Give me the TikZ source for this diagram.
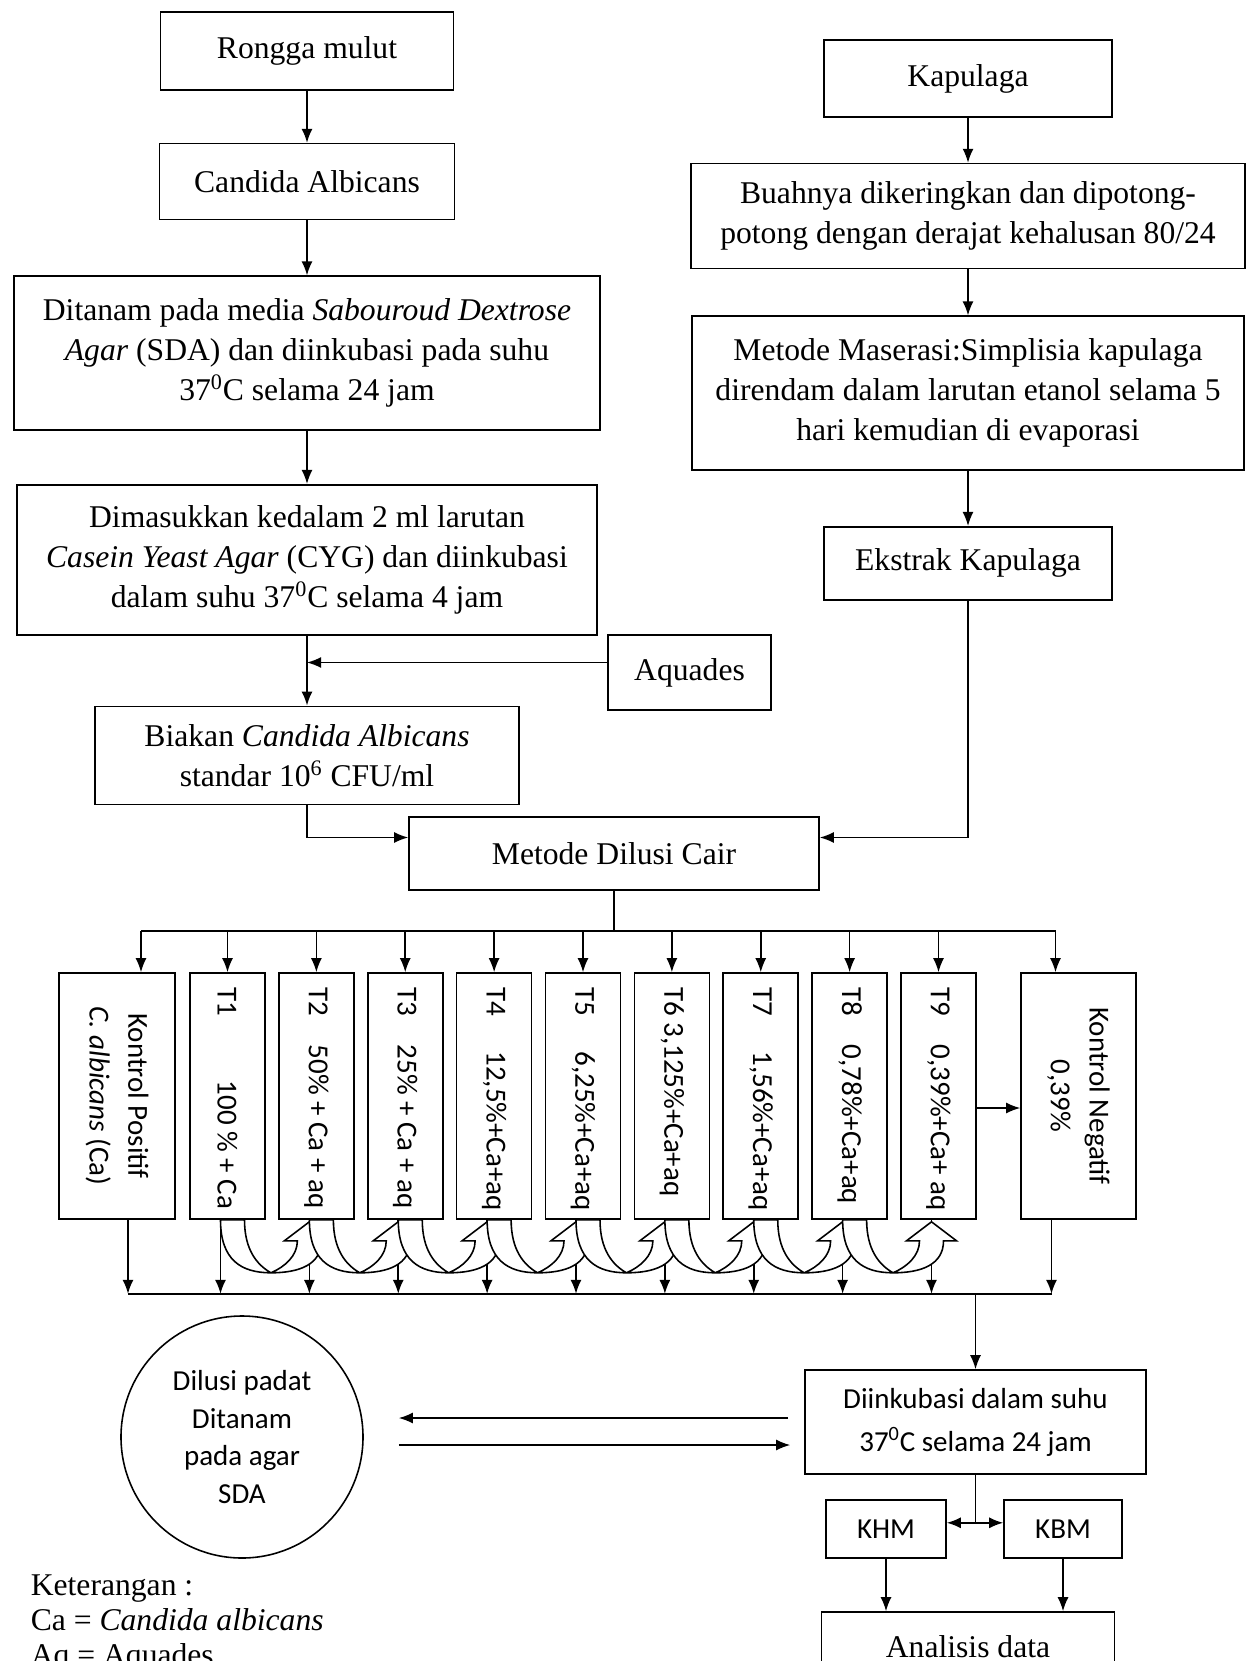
\documentclass[tikz,border=0pt]{standalone}
\usepackage{fontspec}
\setmainfont{Liberation Serif}
\newfontfamily\calfont{Carlito}
\usepackage{graphicx}
\usetikzlibrary{arrows.meta, positioning, calc}
\newcommand{\vlabel}[1]{\rotatebox{-90}{\makebox[43.6mm][l]{#1}}}
\newcommand{\vpair}[2]{\rotatebox{-90}{\parbox{43.6mm}{\centering #1\\ #2}}}
\tikzset{
  box/.style={rectangle,draw,align=center,inner sep=0pt,font=\fontsize{18}{22.7}\selectfont},
  sbox/.style={rectangle,draw,align=center,inner sep=0pt,font=\calfont\fontsize{16.5}{24.5}\selectfont},
  tbox/.style={rectangle,draw,inner sep=0pt,minimum width=15mm,minimum height=49.2mm,font=\calfont\fontsize{16.5}{22}\selectfont},
  line/.style={-{Latex[length=2.8mm,width=2.2mm]}},
  curl/.style={draw,fill=white}
}

\begin{document}
\begin{tikzpicture}[x=0.2mm, y=-0.2mm, line width=0.9pt]
\useasboundingbox (0,0) rectangle (1251,1661);
% left column
\node[box, minimum width=58.6mm, minimum height=15.6mm] (rm) at (307,51) {Rongga mulut};
\node[box, minimum width=59mm, minimum height=15.2mm, below=10.4mm of rm] (ca) {Candida Albicans};
\node[box, minimum width=117.2mm, minimum height=30.8mm, below=11mm of ca] (sda) {Ditanam pada media \textit{Sabouroud Dextrose}\\ \textit{Agar} (SDA) dan diinkubasi pada suhu\\ 37\textsuperscript{0}C selama 24 jam};
\node[box, minimum width=116mm, minimum height=30mm, below=10.6mm of sda] (cyg) {Dimasukkan kedalam 2 ml larutan\\ \textit{Casein Yeast Agar} (CYG) dan diinkubasi\\ dalam suhu 37\textsuperscript{0}C selama 4 jam};
\node[box, minimum width=84.8mm, minimum height=19.6mm, below=14mm of cyg] (bia) {Biakan \textit{Candida Albicans}\\ standar 10\textsuperscript{6} CFU/ml};
% right column
\node[box, minimum width=57.6mm, minimum height=15.4mm] (kap) at (968,78.5) {Kapulaga};
\node[box, minimum width=110.8mm, minimum height=21mm, below=9mm of kap] (bua) {Buahnya dikeringkan dan dipotong-\\ potong dengan derajat kehalusan 80/24};
\node[box, minimum width=110.4mm, minimum height=30.8mm, below=9.2mm of bua] (mas) {Metode Maserasi:Simplisia kapulaga\\ direndam dalam larutan etanol selama 5\\ hari kemudian di evaporasi};
\node[box, minimum width=57.6mm, minimum height=14.6mm, below=11mm of mas] (eks) {Ekstrak Kapulaga};
\node[box, minimum width=32.6mm, minimum height=15mm] (aq) at (689.5,672.5) {Aquades};
\node[box, minimum width=82mm, minimum height=14.6mm] (mdc) at (614,853.5) {Metode Dilusi Cair};

\draw[line] (rm) -- (ca);
\draw[line] (ca) -- (sda);
\draw[line] (sda) -- (cyg);
\draw[line] (cyg) -- (bia);
\coordinate (aqo) at ($(aq.west)+(0,-10)$);
\draw[line] (aqo) -- (aqo -| cyg.south);
\draw[line] (kap) -- (bua);
\draw[line] (bua) -- (mas);
\draw[line] (mas) -- (eks);
\draw[line] (bia.south) |- ($(mdc.west)+(0,-16)$);
\draw[line] (eks.south) |- ($(mdc.east)+(0,-16)$);

% dilution tubes
\node[tbox, minimum width=23.2mm] (kp) at (117,1096) {\vpair{Kontrol Positif}{\textit{C. albicans} (Ca)}};
\foreach \lbl [count=\i] in {{T1\hspace{13mm}100 \% + Ca}, {T2\quad 50\% + Ca + aq}, {T3\quad 25\% + Ca + aq},
    {T4\quad\ 12,5\%+Ca+aq}, {T5\quad\ 6,25\%+Ca+aq}, {T6\ 3,125\%+Ca+aq},
    {T7\quad\ 1,56\%+Ca+aq}, {T8\quad 0,78\%+Ca+aq}, {T9\quad 0,39\%+Ca+ aq}}
  \node[tbox] (t\i) at ({227.5+(\i-1)*88.875},1096) {\vlabel{\lbl}};
\node[tbox, minimum width=23mm] (kn) at (1078.5,1096) {\vpair{Kontrol Negatif}{0,39\%}};

\coordinate (bt) at ($(mdc.south)+(0,40)$);
\coordinate (kpin) at ($(kp.north)+(24,0)$);
\coordinate (knin) at ($(kn.north)+(-23,0)$);
\draw (mdc.south) -- (bt);
\draw (kpin |- bt) -- (knin |- bt);
\draw[line] (kpin |- bt) -- (kpin);
\foreach \i in {1,...,9} \draw[line] (t\i.north |- bt) -- (t\i.north);
\draw[line] (knin |- bt) -- (knin);
\draw[line] ($(t9.east)+(0,12)$) -- ($(kn.west)+(0,12)$);

\coordinate (bb) at ($(kp.south)+(0,74)$);
\coordinate (kpout) at ($(kp.south)+(11,0)$);
\coordinate (knout) at ($(kn.south)+(-27,0)$);
\draw[line] (kpout) -- (kpout |- bb);
\foreach \i in {1,...,9} {
  \coordinate (o\i) at ($(t\i.south)+(-7,0)$);
  \draw[line] (o\i) -- (o\i |- bb);
}
\draw[line] (knout) -- (knout |- bb);
\draw (kpout |- bb) -- (knout |- bb);

% curved transfer arrows
\foreach \i [count=\j from 2] in {1,...,8} {
  \coordinate (v) at ($(o\i)!0.5!(o\j)+(6,53)$);
  \draw[curl] (o\i) .. controls ($(o\i)+(0,40)$) and ($(v)+(-30,0)$) .. (v)
    .. controls ($(v)+(28,0)$) and ($(o\j)+(12,45)$) .. ($(o\j)+(12,21)$)
    -- ($(o\j)+(25,21)$) -- ($(o\j)+(0,2)$) -- ($(o\j)+(-25,21)$) -- ($(o\j)+(-12,21)$)
    .. controls ($(o\j)+(-12,36)$) and ($(v)+(14,-6)$) .. (v)
    .. controls ($(v)+(-14,-8)$) and ($(o\i)+(24,30)$) .. ($(o\i)+(24,0)$) -- cycle;
}

% incubation and results
\node[sbox, minimum width=68.2mm, minimum height=20.8mm] (inc) at (975.5,1422) {Diinkubasi dalam suhu\\ 37\textsuperscript{0}C selama 24 jam};
\draw[line] (inc.north |- bb) -- (inc.north);
\node[circle, draw, minimum size=48.4mm, inner sep=0pt, align=center, font=\calfont\fontsize{16.5}{21.5}\selectfont] (dp) at (242,1437) {Dilusi padat\\ Ditanam\\ pada agar\\ SDA};
\coordinate (ua) at ($(inc.west)+(-16,-4)$);
\draw[line, shorten >=7mm] (ua) -- (ua -| dp.east);
\coordinate (la) at ($(inc.west)+(-14,23)$);
\draw[line, shorten <=7mm] (la -| dp.east) -- (la);

\node[sbox, minimum width=24mm, minimum height=11.6mm] (khm) at (886,1529) {KHM};
\node[sbox, minimum width=23.6mm, minimum height=11.6mm] (kbm) at (1063,1529) {KBM};
\coordinate (jn) at ($(inc.south)+(0,48)$);
\draw (inc.south) -- (jn);
\draw[line] (jn) -- (jn -| khm.east);
\draw[line] (jn) -- (jn -| kbm.west);
\node[box, minimum width=58.6mm, minimum height=14mm] (ana) at (968,1647) {Analisis data};
\draw[line] (khm.south) -- (khm.south |- ana.north);
\draw[line] (kbm.south) -- (kbm.south |- ana.north);

\node[anchor=north west, align=left, inner sep=0pt, font=\fontsize{18}{20}\selectfont] (leg) at (30,1574) {Keterangan :\\ Ca = \textit{Candida albicans}\\ Aq = Aquades};
\end{tikzpicture}
\end{document}
